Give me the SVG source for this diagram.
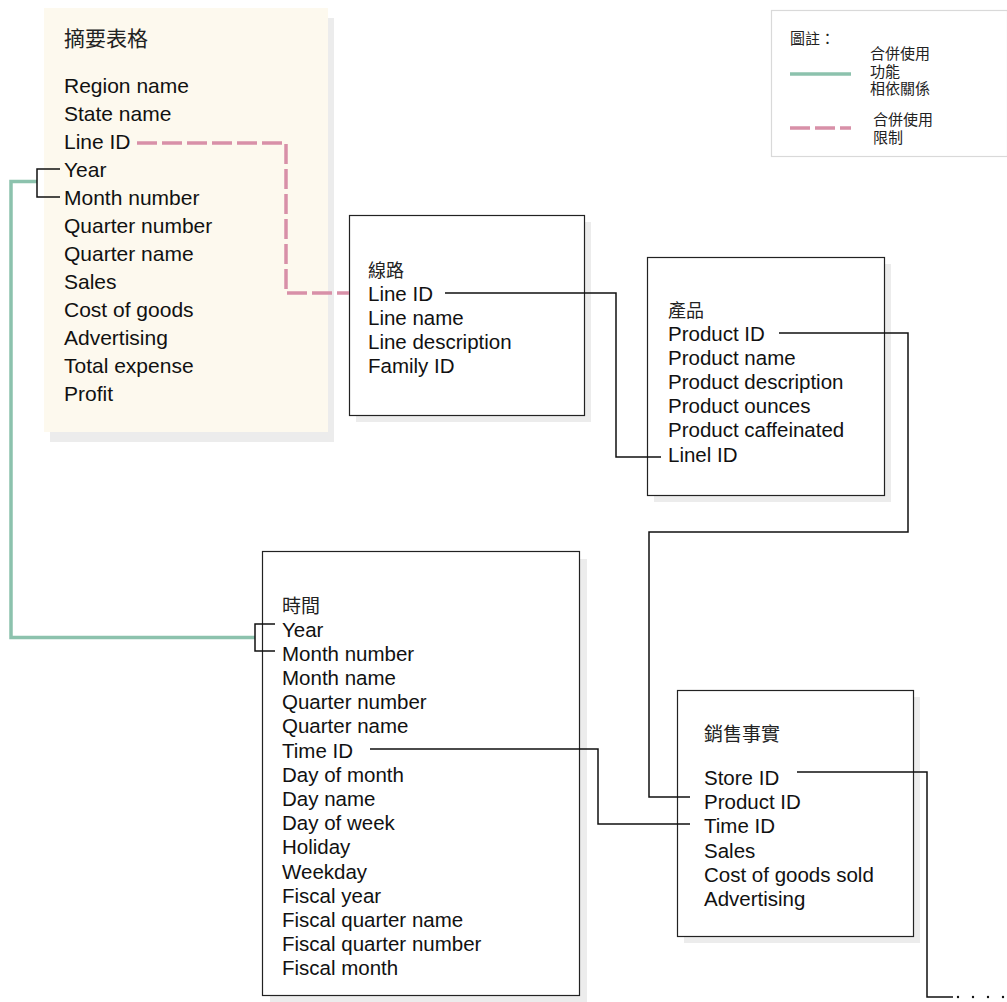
<svg xmlns="http://www.w3.org/2000/svg" width="1007" height="1002" viewBox="0 0 1007 1002">
  <style>
    .lat { font-family: "Liberation Sans", Arial, "Noto Sans CJK TC", sans-serif; fill: #111; }
    .cjk { font-family: "Noto Sans CJK TC", "Noto Sans CJK SC", sans-serif; fill: #222; }
    .sum { font-size: 21px; }
    .fld { font-size: 20.5px; }
    .ttl { font-size: 18px; }
    .leg { font-family: "Liberation Sans", "Noto Sans CJK TC", "Noto Sans CJK SC", sans-serif; font-size: 15px; fill: #222; }
    .shadow { fill: #ececec; }
    .box { fill: #fff; stroke: #222; stroke-width: 1.2; }
    .link { fill: none; stroke: #111; stroke-width: 1.5; }
    .func { fill: none; stroke: #8cc2ad; stroke-width: 3.5; }
    .join { fill: none; stroke: #d890a8; stroke-width: 3.5; stroke-dasharray: 20 5; }
  </style>

  <!-- Legend -->
  <g id="legend">
    <rect x="771.5" y="10.5" width="236" height="146" fill="#fff" stroke="#d9d9d9" stroke-width="1.2"/>
    <text class="leg" x="790" y="44">圖註：</text>
    <line x1="790" y1="74" x2="851" y2="74" class="func"/>
    <text class="leg" x="870" y="59">合併使用</text>
    <text class="leg" x="870" y="76.5">功能</text>
    <text class="leg" x="870" y="94">相依關係</text>
    <line x1="790" y1="128" x2="851" y2="128" class="join" stroke-dasharray="18 5"/>
    <text class="leg" x="873" y="125">合併使用</text>
    <text class="leg" x="873" y="143">限制</text>
  </g>

  <!-- Summary table -->
  <g id="summary">
    <rect x="50" y="18" width="284" height="424" class="shadow"/>
    <rect x="44" y="8" width="284" height="424" fill="#fdf9ee"/>
    <text class="cjk" font-size="21" x="64" y="46">摘要表格</text>
    <g class="lat sum">
      <text x="64" y="93">Region name</text>
      <text x="64" y="121">State name</text>
      <text x="64" y="149">Line ID</text>
      <text x="64" y="177">Year</text>
      <text x="64" y="205">Month number</text>
      <text x="64" y="233">Quarter number</text>
      <text x="64" y="261">Quarter name</text>
      <text x="64" y="289">Sales</text>
      <text x="64" y="317">Cost of goods</text>
      <text x="64" y="345">Advertising</text>
      <text x="64" y="373">Total expense</text>
      <text x="64" y="401">Profit</text>
    </g>
  </g>

  <!-- Line table -->
  <g id="line">
    <rect x="356" y="222" width="235" height="200" class="shadow"/>
    <rect x="349.5" y="215.5" width="235" height="200" class="box"/>
    <text class="cjk ttl" x="368" y="277">線路</text>
    <g class="lat fld">
      <text x="368" y="300.5">Line ID</text>
      <text x="368" y="324.5">Line name</text>
      <text x="368" y="348.5">Line description</text>
      <text x="368" y="372.5">Family ID</text>
    </g>
  </g>

  <!-- Product table -->
  <g id="product">
    <rect x="654" y="264" width="237" height="238" class="shadow"/>
    <rect x="647.5" y="257.5" width="237" height="238" class="box"/>
    <text class="cjk ttl" x="668" y="317">產品</text>
    <g class="lat fld">
      <text x="668" y="340.5">Product ID</text>
      <text x="668" y="364.7">Product name</text>
      <text x="668" y="388.9">Product description</text>
      <text x="668" y="413.1">Product ounces</text>
      <text x="668" y="437.3">Product caffeinated</text>
      <text x="668" y="461.5">Linel ID</text>
    </g>
  </g>

  <!-- Time table -->
  <g id="time">
    <rect x="270" y="559" width="317" height="444" class="shadow"/>
    <rect x="262.5" y="551.5" width="317" height="444" class="box"/>
    <text class="cjk" font-size="19" x="282" y="613">時間</text>
    <g class="lat fld">
      <text x="282" y="636.5">Year</text>
      <text x="282" y="660.7">Month number</text>
      <text x="282" y="684.9">Month name</text>
      <text x="282" y="709.1">Quarter number</text>
      <text x="282" y="733.3">Quarter name</text>
      <text x="282" y="757.5">Time ID</text>
      <text x="282" y="781.7">Day of month</text>
      <text x="282" y="805.9">Day name</text>
      <text x="282" y="830.1">Day of week</text>
      <text x="282" y="854.3">Holiday</text>
      <text x="282" y="878.5">Weekday</text>
      <text x="282" y="902.7">Fiscal year</text>
      <text x="282" y="926.9">Fiscal quarter name</text>
      <text x="282" y="951.1">Fiscal quarter number</text>
      <text x="282" y="975.3">Fiscal month</text>
    </g>
  </g>

  <!-- Sales fact table -->
  <g id="sales">
    <rect x="684" y="697" width="236" height="246" class="shadow"/>
    <rect x="677.5" y="690.5" width="236" height="246" class="box"/>
    <text class="cjk" font-size="19" x="704" y="741">銷售事實</text>
    <g class="lat fld">
      <text x="704" y="785">Store ID</text>
      <text x="704" y="809.2">Product ID</text>
      <text x="704" y="833.4">Time ID</text>
      <text x="704" y="857.6">Sales</text>
      <text x="704" y="881.8">Cost of goods sold</text>
      <text x="704" y="906">Advertising</text>
    </g>
  </g>

  <!-- Connectors -->
  <g id="connectors">
    <path class="join" d="M137,143 H286 V293 H349"/>
    <path class="func" d="M37,181.5 H11 V637.5 H255"/>
    <path class="link" d="M60,169 H37 V197 H60"/>
    <path class="link" d="M275,624 H255 V651 H275"/>
    <path class="link" d="M445,293 H616 V457 H661"/>
    <path class="link" d="M779,333 H908 V532 H649 V797 H690"/>
    <path class="link" d="M370,749 H598 V824 H690"/>
    <path class="link" d="M797,772 H927 V997 H953"/>
    <!-- trailing dotted continuation -->
    <g fill="#111">
      <circle cx="958" cy="997" r="1.2"/>
      <circle cx="973" cy="997" r="1.2"/>
      <circle cx="988" cy="997" r="1.2"/>
      <circle cx="1003" cy="997" r="1.2"/>
    </g>
  </g>
</svg>
